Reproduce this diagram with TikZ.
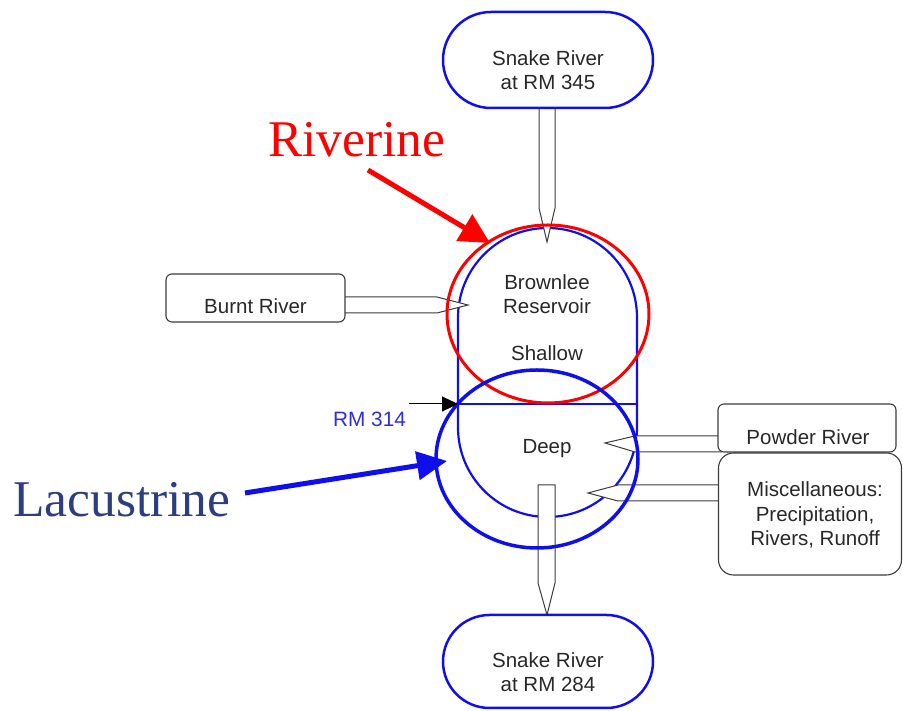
\documentclass[tikz,border=0pt]{standalone}
\usepackage{fontspec}
\setmainfont{Liberation Sans}
\newfontfamily\seriffont{Liberation Serif}
\usetikzlibrary{arrows.meta,calc}
\definecolor{bl}{RGB}{15,15,235}
\definecolor{txt}{RGB}{40,40,40}
\definecolor{gr}{RGB}{60,60,60}
\definecolor{rmblue}{RGB}{45,45,225}
\definecolor{lacu}{RGB}{43,63,128}
\begin{document}
\begin{tikzpicture}[x=1pt,y=1pt,
  lbl/.style={font=\fontsize{20.5}{24.5}\selectfont, text=txt, align=center, inner sep=0pt},
  stad/.style={draw=bl, line width=2.5pt, fill=white, minimum width=210pt, inner sep=0pt},
  rbox/.style={draw=gr, line width=1.1pt, fill=white, inner sep=0pt},
  barrow/.style={draw=gr, line width=1pt, fill=white, line join=miter},
  big/.style={font=\seriffont\fontsize{51.5}{60}\selectfont, inner sep=0pt, anchor=base west}
]
\useasboundingbox (0,0) rectangle (903,711);

% reservoir
\coordinate (resTop) at (547.5,393.5);
\coordinate (resBot) at (547.5,283.5);
\draw[bl, line width=2.2pt, fill=white] ($(resTop)+(-89.5,0)$) -- ($(resBot)+(-89.5,0)$)
  arc[start angle=180, end angle=360, radius=89.5] -- ($(resTop)+(89.5,0)$)
  arc[start angle=0, end angle=180, radius=89.5] -- cycle;
\draw[bl, line width=1.3pt] ($(resBot)+(-89.5,23.5)$) coordinate (divL) -- ($(resBot)+(89.5,23.5)$) coordinate (divR);

% tips
\coordinate (tipTop) at (547,469);
\coordinate (tipBurnt) at (468,406);
\coordinate (tipPowder) at (605,268);
\coordinate (tipMisc) at (588,218);
\coordinate (tipBot) at (547,96);

% block arrows
\path[barrow] (539,606) -- (539,503) -- (tipTop) -- (555,503) -- (555,606);
\path[barrow] (340,414) -- (437,414) -- (tipBurnt) -- (437,398) -- (340,398);
\path[barrow] (722,275) -- (635,275) -- (tipPowder) -- (635,259) -- (722,259);
\path[barrow] (722,226) -- (618,226) -- (tipMisc) -- (618,210) -- (722,210);
\path[barrow] (538,226) -- (555,226) -- (555,128) -- (tipBot) -- (538,128) -- cycle;

% stadiums
\node[stad, minimum height=96pt, rounded corners=48pt] (top) at (548,651) {};
\node[lbl] (topt) at (548,641) {Snake River\\at RM 345};
\node[stad, minimum height=93pt, rounded corners=46.5pt] (bot) at (548,49.5) {};
\node[lbl] (bott) at (548,39) {Snake River\\at RM 284};

% boxes
\node[rbox, minimum width=179pt, minimum height=48pt, rounded corners=6pt] (burnt) at (255.5,413) {};
\node[lbl] (burntt) at (255.5,405) {Burnt River};
\node[rbox, minimum width=183pt, minimum height=122pt, rounded corners=15pt] (misc) at (810,197) {};
\node[lbl] (misct) at (815,196) {Miscellaneous:\\Precipitation,\\Rivers, Runoff};
\node[rbox, minimum width=178pt, minimum height=48pt, rounded corners=6pt] (powder) at (807,283) {};
\node[lbl] (powdert) at (808,274) {Powder River};

% reservoir texts
\node[lbl] (brown) at (547,417) {Brownlee\\Reservoir};
\node[lbl] (shallow) at (547,358) {Shallow};
\node[lbl] (deep) at (547,262) {Deep};

% zone ellipses
\draw[red, line width=3pt] (548,397) coordinate (rivC) ellipse[x radius=101, y radius=89];
\draw[bl, line width=3.5pt] (537,252) coordinate (lacC) ellipse[x radius=101, y radius=89];

% RM 314
\node[font=\fontsize{20.8}{23}\selectfont, text=rmblue, inner sep=0pt] (rm) at (369.5,292) {RM 314};
\coordinate (rmA) at (409,307);
\draw[black, line width=1pt, -{Triangle[length=16pt,width=15pt]}] (rmA) -- (divL);

% labels
\node[big, text=red] (riv) at (268,554) {Riverine};
\coordinate (rivA) at (368,541);
\coordinate (rivB) at (490,468);
\draw[red, line width=5pt, -{Triangle[length=30pt,width=30pt]}] (rivA) -- (rivB);

\node[big, text=lacu] (lac) at (13,194) {Lacustrine};
\coordinate (lacA) at (245,218);
\coordinate (lacB) at (447,250);
\draw[bl, line width=5pt, -{Triangle[length=30pt,width=28pt]}] (lacA) -- (lacB);
\end{tikzpicture}
\end{document}
